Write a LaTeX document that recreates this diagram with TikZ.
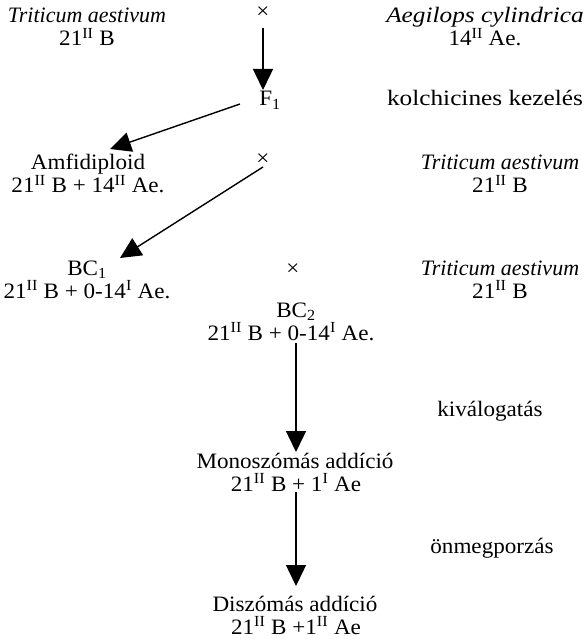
\documentclass[tikz,border=0pt]{standalone}
\usepackage{graphicx}
\usepackage{fontspec}
\setmainfont{Liberation Serif}
\usetikzlibrary{arrows.meta}
\newcommand{\ssup}[1]{\textsuperscript{#1}}
\newcommand{\sx}[2][1.05]{\scalebox{#1}[1]{#2}}
\begin{document}
\begin{tikzpicture}[x=1pt,y=-1pt,
  txt/.style={anchor=base,inner sep=0pt,text height=14pt,text depth=4pt,font=\fontsize{22}{25}\selectfont},
  arr/.style={line width=1.4pt,-{Triangle[width=20pt,length=21pt]}}]
\useasboundingbox (0,0) rectangle (585,639);
% row 1
\node[txt] (t1a) at (87,23) {\sx[1.0]{\itshape Triticum aestivum}};
\node[txt] (t1b) at (87,46) {\sx{21\ssup{II} B}};
\node[txt] (x1) at (263,19) {\sx{×}};
\node[txt] (a1a) at (485,23) {\sx[1.15]{\itshape Aegilops cylindrica}};
\node[txt] (a1b) at (485,46) {\sx{14\ssup{II} Ae.}};
% F1
\node[txt] (f1) at (270,106) {\sx{F\textsubscript{1}}};
\node[txt] (kol) at (485,106) {\sx[1.15]{kolchicines kezelés}};
% Amfidiploid row
\node[txt] (am1) at (88,170) {\sx{Amfidiploid}};
\node[txt] (am2) at (88,193) {\sx{21\ssup{II} B + 14\ssup{II} Ae.}};
\node[txt] (x2) at (263,165) {\sx{×}};
\node[txt] (t2a) at (500,170) {\sx[1.0]{\itshape Triticum aestivum}};
\node[txt] (t2b) at (500,193) {\sx{21\ssup{II} B}};
% BC1 row
\node[txt] (bc1a) at (87,275) {\sx{BC\textsubscript{1}}};
\node[txt] (bc1b) at (87,298) {\sx{21\ssup{II} B + 0-14\ssup{I} Ae.}};
\node[txt] (x3) at (293,275) {\sx{×}};
\node[txt] (t3a) at (500,275) {\sx[1.0]{\itshape Triticum aestivum}};
\node[txt] (t3b) at (500,298) {\sx{21\ssup{II} B}};
% BC2
\node[txt] (bc2a) at (296,317) {\sx{BC\textsubscript{2}}};
\node[txt] (bc2b) at (291,340) {\sx{21\ssup{II} B + 0-14\ssup{I} Ae.}};
\node[txt] (kiv) at (490,416) {\sx{kiválogatás}};
\node[txt] (mo1) at (295,468) {\sx{Monoszómás addíció}};
\node[txt] (mo2) at (296,491) {\sx{21\ssup{II} B + 1\ssup{I} Ae}};
\node[txt] (onm) at (492,553) {\sx{önmegporzás}};
\node[txt] (di1) at (295,611) {\sx{Diszómás addíció}};
\node[txt] (di2) at (296,634) {\sx{21\ssup{II} B +1\ssup{II} Ae}};
% connector ends
\coordinate (p1) at (263,28);  \coordinate (q1) at (263,90);
\coordinate (p2) at (240,104); \coordinate (q2) at (110,149);
\coordinate (p3) at (263,167); \coordinate (q3) at (120,258);
\coordinate (p4) at (296,343); \coordinate (q4) at (296,452);
\coordinate (p5) at (296,492); \coordinate (q5) at (296,586);
\draw[arr] (p1) -- (q1);
\draw[arr] (p2) -- (q2);
\draw[arr] (p3) -- (q3);
\draw[arr] (p4) -- (q4);
\draw[arr] (p5) -- (q5);
\end{tikzpicture}
\end{document}
